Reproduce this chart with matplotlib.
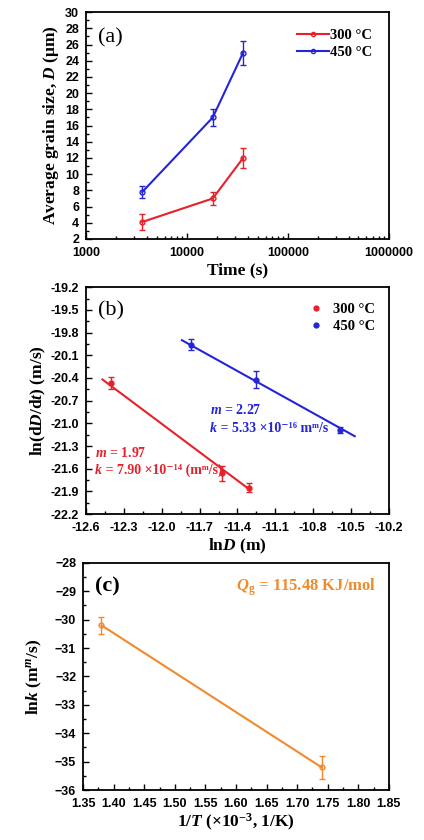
import numpy as np
import matplotlib
matplotlib.use('Agg')
import matplotlib.pyplot as plt
from matplotlib.lines import Line2D
from matplotlib.ticker import MultipleLocator, FixedLocator, NullFormatter

# panel (a): grain size vs time
time_s = [3600, 18000, 36000]
d_300 = [4.1, 7.0, 12.0]
d_300_err = [1.0, 0.8, 1.2]
d_450 = [7.8, 17.0, 25.0]
d_450_err = [0.8, 1.0, 1.5]

# panel (b): ln(dD/dt) vs lnD
lnD_300 = [-12.40, -11.52, -11.31]
rate_300 = [-20.47, -21.66, -21.85]
rate_300_err = [0.08, 0.10, 0.06]
fit_300_x = [-12.47, -11.30]
fit_300_y = [-20.42, -21.88]
lnD_450 = [-11.77, -11.25, -10.59]
rate_450 = [-19.96, -20.42, -21.09]
rate_450_err = [0.07, 0.11, 0.04]
fit_450_x = [-11.84, -10.47]
fit_450_y = [-19.90, -21.17]

# panel (c): lnk vs 1/T
inv_T = [1.38, 1.74]
lnk = [-30.2, -35.2]
lnk_err = [0.3, 0.4]

RED = '#e8202a'
BLUE = '#2424d8'
ORANGE = '#f28a2c'
SERIF = 'Liberation Serif'
SANS = 'Liberation Sans'

plt.rcParams['font.family'] = SANS
plt.rcParams['font.weight'] = 'bold'
plt.rcParams['font.size'] = 9
plt.rcParams['mathtext.fontset'] = 'custom'
plt.rcParams['mathtext.rm'] = 'Liberation Serif:bold'
plt.rcParams['mathtext.bf'] = 'Liberation Serif:bold'
plt.rcParams['mathtext.it'] = 'Liberation Serif:italic:bold'
plt.rcParams['mathtext.default'] = 'bf'

fig = plt.figure(figsize=(4.24, 8.4), dpi=100)

LAB = dict(fontfamily=SERIF, fontweight='bold', fontsize=12.5)


def style_axes(ax):
    for s in ax.spines.values():
        s.set_linewidth(1.3)
    ax.tick_params(which='both', direction='in', top=False, right=False, width=1.0, labelsize=9)
    ax.tick_params(which='major', length=4)
    ax.tick_params(axis='x', pad=6)
    ax.tick_params(axis='y', pad=5)
    ax.tick_params(which='minor', length=2.5)


def fit_note(ax, x, y, m_txt, k_txt, color):
    # italic symbol first, then the rest appended to its right
    fam = [SERIF, 'DejaVu Serif']
    ax.text(x, y, r'$\mathit{m}$ = ' + m_txt, color=color, fontfamily=SERIF,
            fontweight='bold', fontsize=10, va='baseline')
    t = ax.text(x, y - 0.23, 'k', color=color, fontfamily=SERIF, fontstyle='italic',
                fontweight='bold', fontsize=10, va='baseline')
    ax.annotate(k_txt, xy=(1, 0), xycoords=t, va='bottom', ha='left', color=color,
                family=fam, fontweight='bold', fontsize=10)


# ---- (a)
ax1 = fig.add_axes([0.203, 0.7155, 0.714, 0.270])
ax1.errorbar(time_s, d_300, yerr=d_300_err, color=RED, marker='o', ms=3.5, mfc='none',
             lw=1.5, capsize=2, elinewidth=1)
ax1.errorbar(time_s, d_450, yerr=d_450_err, color=BLUE, marker='o', ms=3.5, mfc='none',
             lw=1.5, capsize=2, elinewidth=1)
ax1.set_xscale('log')
ax1.set_xlim(1000, 1e6)
ax1.set_ylim(2, 30)
ax1.xaxis.set_major_locator(FixedLocator([1e3, 1e4, 1e5, 1e6]))
ax1.xaxis.set_major_formatter(plt.FuncFormatter(lambda v, p: f'{v:.0f}'))
ax1.xaxis.set_minor_formatter(NullFormatter())
ax1.yaxis.set_major_locator(MultipleLocator(2))
ax1.yaxis.set_minor_locator(MultipleLocator(1))
style_axes(ax1)
ax1.set_xlabel('Time (s)', labelpad=2, **LAB)
ax1.set_ylabel(r'Average grain size, $\mathit{D}$ ($\mathrm{\mu}$m)', labelpad=3, **LAB)
ax1.text(0.04, 0.93, '(a)', transform=ax1.transAxes, fontfamily=SERIF, fontweight='normal',
         fontsize=16, va='top')
h_a = [Line2D([], [], color=RED, lw=1.5, marker='o', ms=3, mfc='none'),
       Line2D([], [], color=BLUE, lw=1.5, marker='o', ms=3, mfc='none')]
ax1.legend(h_a, ['300 °C', '450 °C'], loc='upper right', bbox_to_anchor=(0.99, 0.985),
           frameon=False, handlelength=2.2, handletextpad=0.1, labelspacing=0.3,
           prop={'family': SERIF, 'weight': 'bold', 'size': 10.5})

# ---- (b)
ax2 = fig.add_axes([0.203, 0.388, 0.714, 0.270])
ax2.plot(fit_300_x, fit_300_y, color=RED, lw=1.5)
ax2.plot(fit_450_x, fit_450_y, color=BLUE, lw=1.5)
ax2.errorbar(lnD_300, rate_300, yerr=rate_300_err, color=RED, fmt='o', ms=3.5,
             capsize=2, elinewidth=1)
ax2.errorbar(lnD_450, rate_450, yerr=rate_450_err, color=BLUE, fmt='o', ms=3.5,
             capsize=2, elinewidth=1)
ax2.set_xlim(-12.6, -10.2)
ax2.set_ylim(-22.2, -19.2)
ax2.xaxis.set_major_locator(MultipleLocator(0.3))
ax2.xaxis.set_minor_locator(MultipleLocator(0.15))
ax2.yaxis.set_major_locator(MultipleLocator(0.3))
ax2.yaxis.set_minor_locator(MultipleLocator(0.15))
ax2.xaxis.set_major_formatter(plt.FuncFormatter(lambda v, p: f'{v:.1f}'))
ax2.yaxis.set_major_formatter(plt.FuncFormatter(lambda v, p: f'{v:.1f}'))
style_axes(ax2)
ax2.set_xlabel(r'ln$\mathit{D}$ (m)', labelpad=2, **LAB)
ax2.set_ylabel(r'ln(d$\mathit{D}$/d$\mathit{t}$) (m/s)', labelpad=2, **LAB)
ax2.text(0.04, 0.94, '(b)', transform=ax2.transAxes, fontfamily=SERIF, fontweight='normal',
         fontsize=16, va='top')
h_b = [Line2D([], [], color=RED, ls='none', marker='o', ms=3.5),
       Line2D([], [], color=BLUE, ls='none', marker='o', ms=3.5)]
ax2.legend(h_b, ['300 °C', '450 °C'], loc='upper right', bbox_to_anchor=(1.0, 0.99),
           frameon=False, handlelength=1.2, handletextpad=0.6, labelspacing=0.3,
           prop={'family': SERIF, 'weight': 'bold', 'size': 10.5})
fit_note(ax2, -11.62, -20.88, '2.27', ' = 5.33 ×10⁻¹⁶ mᵐ/s', BLUE)
fit_note(ax2, -12.53, -21.44, '1.97', ' = 7.90 ×10⁻¹⁴ (mᵐ/s)', RED)

# ---- (c)
ax3 = fig.add_axes([0.196, 0.0595, 0.721, 0.2705])
ax3.errorbar(inv_T, lnk, yerr=lnk_err, color=ORANGE, marker='o', ms=3.5, mfc='none',
             lw=1.5, capsize=2, elinewidth=1)
ax3.set_xlim(1.35, 1.85)
ax3.set_ylim(-36, -28)
ax3.xaxis.set_major_locator(MultipleLocator(0.05))
ax3.xaxis.set_minor_locator(MultipleLocator(0.025))
ax3.yaxis.set_major_locator(MultipleLocator(1))
ax3.yaxis.set_minor_locator(MultipleLocator(0.5))
ax3.xaxis.set_major_formatter(plt.FuncFormatter(lambda v, p: f'{v:.2f}'))
style_axes(ax3)
ax3.set_xlabel(r'1/$\mathit{T}$ (×10$^{-3}$, 1/K)', labelpad=1, **LAB)
ax3.set_ylabel(r'ln$\mathit{k}$ (m$^{\mathit{m}}$/s)', labelpad=8, **LAB)
ax3.text(0.04, 0.94, '(c)', transform=ax3.transAxes, fontfamily=SERIF, fontweight='bold',
         fontsize=16, va='top')
ax3.text(0.96, 0.94, r'$\mathit{Q}_{\mathrm{g}}$ = 115.48 KJ/mol', transform=ax3.transAxes,
         color=ORANGE, fontfamily=SERIF, fontweight='bold', fontsize=12, va='top', ha='right')

fig.savefig('out.png', dpi=100)
